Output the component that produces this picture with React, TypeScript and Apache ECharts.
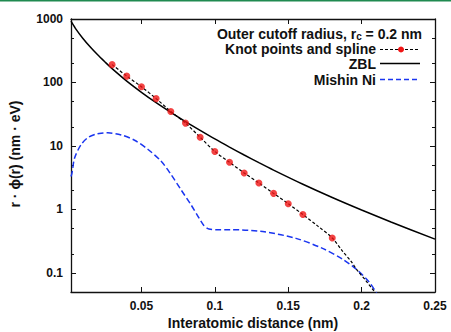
import React, { useEffect, useRef } from 'react';
import * as echarts from 'echarts';

// ZBL universal screened-Coulomb curve (nm, nm·eV)
const zblR = [0.002, 0.005, 0.01, 0.015, 0.02, 0.025, 0.03, 0.04, 0.05, 0.06, 0.07, 0.08, 0.09, 0.10, 0.11, 0.12, 0.13, 0.14, 0.16, 0.18, 0.20, 0.22, 0.25];
const zblV = [922, 712, 498, 365, 275, 212, 165, 105, 70.0, 48.0, 33.8, 24.2, 17.6, 12.9, 9.6, 7.2, 5.45, 4.16, 2.49, 1.54, 0.978, 0.634, 0.34];

// Knot points
const knotR = [0.03, 0.04, 0.05, 0.06, 0.07, 0.08, 0.09, 0.10, 0.11, 0.12, 0.13, 0.14, 0.15, 0.16, 0.18];
const knotV = [191, 126, 85.5, 55.7, 35, 22.9, 13.7, 8.18, 5.53, 3.75, 2.61, 1.79, 1.23, 0.83, 0.355];

// Spline through the knots, continued to the cutoff
const splineR = [0.03, 0.04, 0.05, 0.06, 0.07, 0.08, 0.09, 0.10, 0.11, 0.12, 0.13, 0.14, 0.15, 0.16, 0.17, 0.18, 0.187, 0.193, 0.197, 0.203, 0.209, 0.213];
const splineV = [191, 126, 85.5, 55.7, 35, 22.9, 13.7, 8.18, 5.53, 3.75, 2.61, 1.79, 1.23, 0.83, 0.55, 0.355, 0.22, 0.15, 0.11, 0.075, 0.05, 0.04];

// Mishin Ni pair potential
const mishinR = [0.002, 0.0027, 0.0045, 0.009, 0.0135, 0.0185, 0.0226, 0.0271, 0.0362, 0.0453, 0.0543, 0.0633, 0.0701, 0.0769, 0.0837, 0.0894, 0.0925, 0.0960, 0.1019, 0.110, 0.1326, 0.1553, 0.1734, 0.187, 0.1972, 0.2051, 0.2097, 0.212];
const mishinV = [3.3, 3.77, 6.52, 10.6, 13.5, 15.2, 15.9, 16.1, 14.9, 12.3, 8.86, 5.78, 3.56, 2.05, 1.19, 0.72, 0.56, 0.49, 0.48, 0.48, 0.447, 0.350, 0.243, 0.165, 0.110, 0.072, 0.050, 0.04];

const xTicks = [0.05, 0.1, 0.15, 0.2, 0.25];
const yMinorTicks = [0.2, 0.5, 2, 5, 20, 50, 200, 500];

const FONT = '"Liberation Sans", Arial, sans-serif';

const zip = (a: number[], b: number[]) => a.map((v, i) => [v, b[i]]);

export default function App() {
  const ref = useRef<HTMLDivElement>(null);
  useEffect(() => {
    if (!ref.current) return;
    const chart = echarts.init(ref.current, undefined, { renderer: 'svg' });
    const axisLine = { show: true, lineStyle: { color: '#111', width: 1.3 } };
    const baseY = {
      type: 'log' as const,
      min: 0.05,
      max: 1000,
      splitLine: { show: false },
      axisLine,
    };
    chart.setOption({
      animation: false,
      backgroundColor: '#fff',
      grid: { left: 71, right: 16, top: 19, bottom: 40 },
      xAxis: [
        {
          type: 'value',
          min: 0.002,
          max: 0.25,
          position: 'bottom',
          axisLine,
          splitLine: { show: false },
          axisTick: { inside: true, length: 5, customValues: xTicks, lineStyle: { color: '#111' } },
          axisLabel: {
            customValues: xTicks,
            margin: 8,
            color: '#111',
            fontFamily: FONT,
            fontWeight: 'bold',
            fontSize: 12,
            formatter: (v: number) => String(v),
          },
        },
        {
          type: 'value',
          min: 0.002,
          max: 0.25,
          position: 'top',
          axisLine,
          splitLine: { show: false },
          axisTick: { inside: true, length: 5, customValues: xTicks.slice(0, 4), lineStyle: { color: '#111' } },
          axisLabel: { show: false },
        },
      ],
      yAxis: [
        {
          ...baseY,
          position: 'left',
          axisTick: { inside: true, length: 5, lineStyle: { color: '#111' } },
          axisLabel: {
            showMinLabel: false,
            margin: 8,
            color: '#111',
            fontFamily: FONT,
            fontWeight: 'bold',
            fontSize: 12,
            formatter: (v: number) => String(v),
          },
        },
        {
          ...baseY,
          position: 'left',
          axisLine: { show: false },
          axisTick: { inside: true, length: 3, customValues: yMinorTicks, lineStyle: { color: '#111' } },
          axisLabel: { show: false },
        },
        {
          ...baseY,
          position: 'right',
          axisTick: { inside: true, length: 5, lineStyle: { color: '#111' } },
          axisLabel: { show: false },
        },
        {
          ...baseY,
          position: 'right',
          axisLine: { show: false },
          axisTick: { inside: true, length: 3, customValues: yMinorTicks, lineStyle: { color: '#111' } },
          axisLabel: { show: false },
        },
      ],
      series: [
        {
          type: 'line',
          name: 'ZBL',
          data: zip(zblR, zblV),
          smooth: 0.3,
          showSymbol: false,
          lineStyle: { color: '#000', width: 1.5 },
          z: 3,
        },
        {
          type: 'line',
          name: 'Mishin Ni',
          data: zip(mishinR, mishinV),
          smooth: 0.3,
          showSymbol: false,
          lineStyle: { color: '#1a35f0', width: 1.5, type: [6, 3] },
          z: 2,
        },
        {
          type: 'line',
          name: 'spline',
          data: zip(splineR, splineV),
          smooth: 0.3,
          showSymbol: false,
          lineStyle: { color: '#000', width: 1.2, type: [3, 2] },
          z: 4,
        },
        {
          type: 'scatter',
          name: 'Knot points and spline',
          data: zip(knotR, knotV),
          symbol: 'circle',
          symbolSize: 7,
          itemStyle: { color: '#f01414' },
          z: 5,
        },
      ],
      graphic: [
        { type: 'rect', shape: { x: 0, y: 0, width: 451, height: 1.5 }, style: { fill: '#1f8a50' } },
        {
          type: 'text',
          x: 15,
          y: 154,
          rotation: Math.PI / 2,
          style: {
            text: 'r · ϕ(r) (nm · eV)',
            font: `bold 14px ${FONT}`,
            fill: '#111',
            align: 'center',
            verticalAlign: 'middle',
          },
        },
        {
          type: 'text',
          x: 253,
          y: 323,
          style: {
            text: 'Interatomic distance (nm)',
            font: `bold 14px ${FONT}`,
            fill: '#111',
            align: 'center',
            verticalAlign: 'middle',
          },
        },
        {
          type: 'text',
          x: 422,
          y: 34,
          style: {
            text: '{m|Outer cutoff radius, r}{s|c}{m| = 0.2 nm}',
            align: 'right',
            verticalAlign: 'middle',
            rich: {
              m: { font: `bold 14px ${FONT}`, fill: '#111', lineHeight: 14, verticalAlign: 'middle' },
              s: { font: `bold 10px ${FONT}`, fill: '#111', lineHeight: 14, verticalAlign: 'bottom', padding: [6, 0, 0, 0] },
            },
          },
        },
        {
          type: 'text', x: 376, y: 49,
          style: { text: 'Knot points and spline', font: `bold 14px ${FONT}`, fill: '#111', align: 'right', verticalAlign: 'middle' },
        },
        {
          type: 'text', x: 376, y: 64,
          style: { text: 'ZBL', font: `bold 14px ${FONT}`, fill: '#111', align: 'right', verticalAlign: 'middle' },
        },
        {
          type: 'text', x: 376, y: 80,
          style: { text: 'Mishin Ni', font: `bold 14px ${FONT}`, fill: '#111', align: 'right', verticalAlign: 'middle' },
        },
        {
          type: 'line', shape: { x1: 380, y1: 49.5, x2: 420, y2: 49.5 },
          style: { stroke: '#000', lineWidth: 1.2, lineDash: [3, 2] },
        },
        { type: 'circle', shape: { cx: 401, cy: 49.5, r: 3 }, style: { fill: '#f01414' } },
        {
          type: 'line', shape: { x1: 380, y1: 63.5, x2: 420, y2: 63.5 },
          style: { stroke: '#000', lineWidth: 1.5 },
        },
        {
          type: 'line', shape: { x1: 380, y1: 79.5, x2: 420, y2: 79.5 },
          style: { stroke: '#1a35f0', lineWidth: 1.5, lineDash: [5, 3] },
        },
      ],
    });
    return () => chart.dispose();
  }, []);
  return <div ref={ref} style={{ position: 'fixed', left: 0, top: 0, width: 451, height: 332 }} />;
}
